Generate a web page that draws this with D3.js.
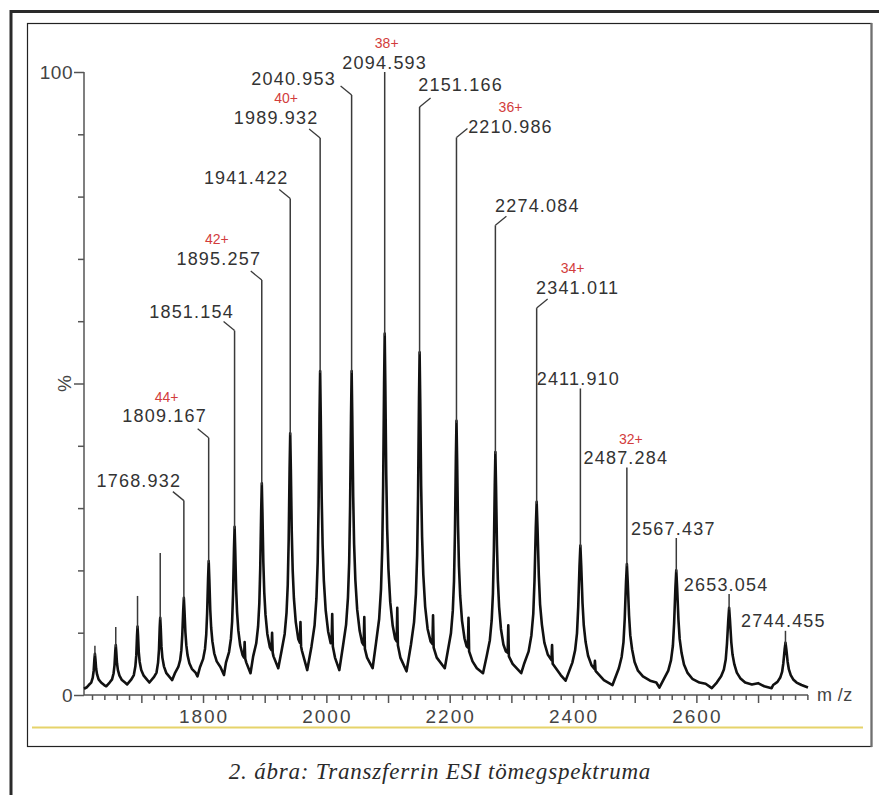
<!DOCTYPE html>
<html>
<head>
<meta charset="utf-8">
<script src="https://cdn.jsdelivr.net/npm/d3@7"></script>
<style>
  html, body { margin: 0; padding: 0; background: #fff; }
  svg { display: block; }
  .num { font-family: "Liberation Sans", Arial, sans-serif; font-size: 18px; fill: #333; letter-spacing: 1.2px; }
  .chg { font-family: "Liberation Sans", Arial, sans-serif; font-size: 14px; fill: #d23c3c; }
  .axlab { font-family: "Liberation Sans", Arial, sans-serif; font-size: 19px; fill: #444; letter-spacing: 2px; }
  .caption { font-family: "Liberation Serif", "DejaVu Serif", serif; font-style: italic; font-size: 23px; letter-spacing: 0.8px; fill: #2a2a2a; }
</style>
</head>
<body>
<svg id="chart" width="879" height="795"></svg>
<script>
// Labelled transferrin charge-state peaks (m/z and relative intensity, %)
const peakMz  = [1768.932, 1809.167, 1851.154, 1895.257, 1941.422, 1989.932, 2040.953, 2094.593, 2151.166,
                 2210.986, 2274.084, 2341.011, 2411.910, 2487.284, 2567.437, 2653.054, 2744.455];
const peakPct = [31.2, 41.3, 58.5, 66.6, 79.7, 89.4, 96.3, 100, 94.4, 89.5, 75.4, 62.1, 49.2, 36.5, 25.2, 16.2, 10.3];
const chargeState = [null, "44+", null, "42+", null, "40+", null, "38+", null, "36+", null, "34+", null, "32+", null, null, null];

// Unlabelled high-charge peaks at the low-m/z end
const minorMz  = [1624.7, 1658.5, 1693.8, 1730.6];
const minorPct = [7.9, 10.9, 15.9, 22.8];

// Axis ticks
const xTickLabels = [1800, 2000, 2200, 2400, 2600];
const yTickLabels = [0, 100];

// Profile trace [m/z, %]: broad part of every peak and the baseline between them
const spectrum = [
  [1607,1.0],[1611,1.2],
  [1614.7,1.6],[1618.7,2.0],[1621.2,2.8],[1622.7,3.9],[1623.9,5.8],[1624.7,6.6],[1625.5,5.8],[1626.7,4.2],[1628.2,3.3],[1630.7,2.5],[1634.7,2.0],[1639.7,1.6],[1643,1.4],
  [1648.5,2.0],[1652.5,2.5],[1655,3.5],[1656.5,4.8],[1657.7,7.0],[1658.5,8.0],[1659.3,7.0],[1660.5,5.1],[1662,4.0],[1664.5,3.1],[1668.5,2.4],[1673.5,2.0],[1677,1.7],
  [1683.8,2.5],[1687.8,3.2],[1690.3,4.6],[1691.8,6.4],[1693,9.6],[1693.8,11.0],[1694.6,9.6],[1695.8,6.9],[1697.3,5.3],[1699.8,4.0],[1703.8,3.1],[1708.8,2.5],[1713,2.0],
  [1720.6,2.9],[1724.6,3.6],[1727.1,5.2],[1728.6,7.3],[1729.8,10.9],[1730.6,12.4],[1731.4,10.9],[1732.6,7.8],[1734.1,6.0],[1736.6,4.6],[1740.6,3.5],[1745.6,2.9],[1750,2.4],
  [1754.9,3.6],[1759.9,4.5],[1762.9,5.6],[1764.9,7.2],[1766.4,9.7],[1767.9,13.6],[1768.9,15.6],[1769.9,13.6],[1771.4,10.1],[1772.9,8.0],[1774.9,6.4],[1777.9,5.1],[1781.9,4.2],[1787.9,3.6],[1791,3.0],
  [1795.2,4.5],[1800.2,5.8],[1803.2,7.4],[1805.2,9.7],[1806.7,13.2],[1808.2,18.7],[1809.2,21.5],[1810.2,18.7],[1811.7,13.7],[1813.2,10.8],[1815.2,8.6],[1818.2,6.7],[1822.2,5.4],[1828.2,4.5],[1834,3.2],
  [1837.2,5.2],[1842.2,6.9],[1845.2,9.0],[1847.2,11.8],[1848.7,16.3],[1850.2,23.4],[1851.2,27],[1852.2,23.4],[1853.7,17.0],[1855.2,13.3],[1857.2,10.4],[1860.2,8.0],[1864.2,6.4],[1866.5,6.0],[1867.5,8.5],[1868.5,5.8],[1870.2,5.2],[1877,3.5],
  [1881.3,6.2],[1886.3,8.3],[1889.3,11.0],[1891.3,14.7],[1892.8,20.4],[1894.3,29.5],[1895.3,34],[1896.3,29.5],[1897.8,21.3],[1899.3,16.5],[1901.3,12.9],[1904.3,9.8],[1908.3,7.7],[1911,7.2],[1912,10.0],[1913,6.8],[1914.3,6.2],[1922,4.3],
  [1927.4,7.1],[1932.4,9.8],[1935.4,13.2],[1937.4,17.7],[1938.9,24.9],[1940.4,36.3],[1941.4,42],[1942.4,36.3],[1943.9,26.1],[1945.4,20.0],[1947.4,15.5],[1950.4,11.7],[1954.4,9.0],[1957,8.4],[1958,11.7],[1959,7.8],[1960.4,7.1],[1969,4.0],
  [1975.9,7.8],[1980.9,11.2],[1983.9,15.5],[1985.9,21.3],[1987.4,30.4],[1988.9,44.8],[1989.9,52],[1990.9,44.8],[1992.4,31.8],[1993.9,24.2],[1995.9,18.4],[1998.9,13.6],[2002.9,10.2],[2007,8.3],[2008.5,8.5],[2009.5,13],[2010.5,7.8],[2014,6.0],[2021,4.0],
  [2027,7.9],[2032,11.3],[2035,15.6],[2037,21.3],[2038.5,30.4],[2040,44.8],[2041,52],[2042,44.8],[2043.5,31.9],[2045,24.2],[2047,18.5],[2050,13.7],[2054,10.3],[2058,8.4],[2060.5,8.0],[2061.5,12.5],[2062.5,7.4],[2066,6.0],[2075,4.3],
  [2080.6,8.4],[2085.6,12.2],[2088.6,17.0],[2090.6,23.5],[2092.1,33.7],[2093.6,49.9],[2094.6,58],[2095.6,49.9],[2097.1,35.4],[2098.6,26.7],[2100.6,20.3],[2103.6,14.9],[2107.6,11.1],[2111.6,9.0],[2114,8.6],[2115,14],[2116,8.0],[2120,6.0],[2130,3.8],
  [2137.2,8.1],[2142.2,11.7],[2145.2,16.2],[2147.2,22.4],[2148.7,32.0],[2150.2,47.4],[2151.2,55],[2152.2,47.4],[2153.7,33.6],[2155.2,25.4],[2157.2,19.3],[2160.2,14.2],[2164.2,10.6],[2169,8.6],[2172,8.2],[2173,12.8],[2174,7.6],[2179,6.0],[2192,4.3],
  [2197,7.1],[2202,9.9],[2205,13.5],[2207,18.3],[2208.5,26.0],[2210,38.0],[2211,44],[2212,38.0],[2213.5,27.2],[2215,20.7],[2217,15.9],[2220,11.9],[2224,9.1],[2227.5,7.8],[2229.5,7.6],[2230.5,12.4],[2231.5,7.0],[2237,5.4],[2244,4.3],[2254,3.5],
  [2260.1,6.3],[2265.1,8.8],[2268.1,12.0],[2270.1,16.3],[2271.6,23.0],[2273.1,33.7],[2274.1,39],[2275.1,33.7],[2276.6,24.1],[2278.1,18.4],[2280.1,14.2],[2283.1,10.6],[2287.1,8.1],[2291,7.0],[2294,6.8],[2295,11.2],[2296,6.2],[2302,5.0],[2316,3.5],
  [2321,5.1],[2328,7.0],[2332.5,9.6],[2335.5,13.0],[2337.5,18.3],[2339.6,26.8],[2341,31],[2342.4,26.8],[2344.5,19.2],[2346.5,14.6],[2349.5,11.3],[2353.5,8.4],[2359,6.5],[2365,5.6],[2366,8.0],[2367,5.0],[2380,3.2],[2388,2.3],
  [2398.9,5.2],[2403.4,7.2],[2406.4,9.9],[2408.4,14.1],[2410.5,20.7],[2411.9,24],[2413.3,20.7],[2415.4,14.7],[2417.4,11.2],[2420.4,8.5],[2424.4,6.3],[2429.9,4.8],[2434.5,4.2],[2435.5,5.5],[2436.5,3.9],[2437.9,3.7],[2450,2.4],[2464,1.6],
  [2474.3,4.3],[2478.8,6.1],[2481.8,8.5],[2483.8,12.2],[2485.9,18.1],[2487.3,21],[2488.7,18.1],[2490.8,12.8],[2492.8,9.6],[2495.8,7.3],[2499.8,5.3],[2505.3,3.9],[2513.3,3.0],[2525,2.3],[2535,2.0],[2540,1.2],
  [2547.4,2.6],[2554.4,3.9],[2558.9,5.6],[2561.9,7.9],[2563.9,11.5],[2566,17.2],[2567.4,20],[2568.8,17.2],[2570.9,12.1],[2572.9,9.0],[2575.9,6.8],[2579.9,4.9],[2585.4,3.6],[2593.4,2.6],[2605,2.0],[2615,1.8],[2625,1.1],
  [2633.1,2.0],[2640.1,3.0],[2644.6,4.1],[2647.6,5.7],[2649.6,8.2],[2651.7,12.0],[2653.1,14],[2654.5,12.0],[2656.6,8.5],[2658.6,6.5],[2661.6,4.9],[2665.6,3.6],[2671.1,2.7],[2679.1,2.0],[2690,1.7],[2700,1.9],[2710,1.4],[2722,1.1],
  [2724.5,1.6],[2731.5,2.1],[2736,2.8],[2739,3.7],[2741,5.1],[2743.1,7.3],[2744.5,8.4],[2745.9,7.3],[2748,5.3],[2750,4.1],[2753,3.2],[2757,2.5],[2762.5,2.0],[2770.5,1.6],[2781,1.2]
];

// Label placement: offset of the number label from the peak top, leader side, charge label shift
const labelLayout = [
  {dx:-45, dy:-20, lead:-1, cdx:0}, {dx:-44, dy:-22, lead:-1, cdx:2}, {dx:-43, dy:-19, lead:-1, cdx:0},
  {dx:-43, dy:-22, lead:-1, cdx:-2}, {dx:-44, dy:-21, lead:-1, cdx:0}, {dx:-44, dy:-21, lead:-1, cdx:10},
  {dx:-58, dy:-17, lead:-1, cdx:0}, {dx:0, dy:-10, lead:0, cdx:2}, {dx:41, dy:-22, lead:1, cdx:0},
  {dx:54, dy:-11, lead:1, cdx:0}, {dx:42, dy:-20, lead:1, cdx:0}, {dx:41, dy:-21, lead:1, cdx:-5},
  {dx:-2, dy:-10, lead:0, cdx:0}, {dx:-1, dy:-10, lead:0, cdx:5}, {dx:-3, dy:-10, lead:0, cdx:0},
  {dx:-3, dy:-10, lead:0, cdx:0}, {dx:-2, dy:-10, lead:0, cdx:0}
];

const svg = d3.select("#chart");

// Frames
svg.append("line").attr("x1", 10).attr("y1", 11.5).attr("x2", 879).attr("y2", 11.5)
  .attr("stroke", "#2a2a2a").attr("stroke-width", 3);
svg.append("line").attr("x1", 11).attr("y1", 10).attr("x2", 11).attr("y2", 795)
  .attr("stroke", "#2a2a2a").attr("stroke-width", 3);
svg.append("rect").attr("x", 27.5).attr("y", 23.5).attr("width", 844).attr("height", 723)
  .attr("fill", "#fff").attr("stroke", "#222").attr("stroke-width", 1.2);
svg.append("line").attr("x1", 871.5).attr("y1", 23).attr("x2", 871.5).attr("y2", 747)
  .attr("stroke", "#707070").attr("stroke-width", 2.2);
svg.append("line").attr("x1", 32).attr("y1", 727.5).attr("x2", 863).attr("y2", 727.5)
  .attr("stroke", "#e6d36a").attr("stroke-width", 2);

const x = d3.scaleLinear().domain([1607, 2781]).range([84, 808]);
const y = d3.scaleLinear().domain([0, 100]).range([695, 72]);

// Axes
const axisColor = "#555";
const gx = svg.append("g").attr("transform", `translate(0,${y(0)})`);
gx.call(d3.axisBottom(x).tickValues(d3.range(1620, 2781, 20)).tickSize(5).tickFormat(""));
gx.call(g => g.select(".domain").attr("d", `M${x.range()[0]},0H${x.range()[1]}`));
gx.selectAll(".tick line").attr("y2", d => d % 100 === 0 ? 8 : 5);
gx.selectAll("line, path").attr("stroke", axisColor).attr("stroke-width", 1.5);
svg.append("g").selectAll("text").data(xTickLabels).join("text")
  .attr("class", "axlab").attr("x", d => x(d) + 1).attr("y", 723).attr("text-anchor", "middle").text(d => d);

const gy = svg.append("g").attr("transform", `translate(${x(1607)},0)`);
gy.call(d3.axisLeft(y).tickValues(d3.range(0, 101, 10)).tickSize(6).tickFormat(""));
gy.call(g => g.select(".domain").attr("d", `M0,${y(0)}V${y(100)}`));
gy.selectAll(".tick line").attr("x2", d => (d === 0 || d === 100 || d === 50) ? -10 : -6);
gy.selectAll("line, path").attr("stroke", axisColor).attr("stroke-width", 1.5);
svg.append("g").selectAll("text").data(yTickLabels).join("text")
  .attr("class", "axlab").attr("x", x(1607) - 11).attr("y", d => y(d) + 7)
  .attr("text-anchor", "end").style("letter-spacing", "0.5px").text(d => d);
svg.append("text").attr("class", "axlab")
  .attr("transform", `translate(${x(1607) - 11},${y(50)}) rotate(-90)`)
  .attr("text-anchor", "middle").attr("dy", "-0.1em").style("letter-spacing", "0px").text("%");
svg.append("text").attr("class", "axlab").attr("x", 817).attr("y", y(0) + 6)
  .style("letter-spacing", "0.4px").style("font-size", "18px").text("m /z");

// Spectrum trace
const line = d3.line().x(d => x(d[0])).y(d => y(d[1]));
svg.append("path").datum(spectrum).attr("d", line)
  .attr("fill", "none").attr("stroke", "#111").attr("stroke-width", 2.6)
  .attr("stroke-linejoin", "round");

// Narrow apex of each peak, rising from the broad profile
function profileAt(mz) {
  let best = spectrum[0];
  for (const p of spectrum) if (Math.abs(p[0] - mz) < Math.abs(best[0] - mz)) best = p;
  return best[1];
}
const spikes = peakMz.map((m, i) => ({m, top: peakPct[i]}))
  .concat(minorMz.map((m, i) => ({m, top: minorPct[i]})));
svg.append("g").selectAll("line").data(spikes).join("line")
  .attr("x1", d => x(d.m)).attr("x2", d => x(d.m))
  .attr("y1", d => y(profileAt(d.m)) + 2).attr("y2", d => y(d.top))
  .attr("stroke", "#3a3a3a").attr("stroke-width", 1.5);

// Peak labels, leaders and charge states
const labels = peakMz.map((m, i) => ({m, top: peakPct[i], z: chargeState[i], ...labelLayout[i]}));
const lg = svg.append("g");
lg.selectAll("path").data(labels.filter(d => d.lead !== 0)).join("path")
  .attr("d", d => {
    const px = x(d.m), py = y(d.top);
    return `M${px + d.lead * 11},${py - 9}L${px},${py}`;
  })
  .attr("fill", "none").attr("stroke", "#3a3a3a").attr("stroke-width", 1.3);
lg.selectAll("text.num").data(labels).join("text").attr("class", "num")
  .attr("x", d => x(d.m) + d.dx).attr("y", d => y(d.top) + d.dy + 6.5)
  .attr("text-anchor", "middle").text(d => d.m.toFixed(3));
lg.selectAll("text.chg").data(labels.filter(d => d.z)).join("text").attr("class", "chg")
  .attr("x", d => x(d.m) + d.dx + d.cdx).attr("y", d => y(d.top) + d.dy - 14)
  .attr("text-anchor", "middle").text(d => d.z);

// Caption
svg.append("text").attr("class", "caption").attr("x", 440).attr("y", 779)
  .attr("text-anchor", "middle").text("2. ábra: Transzferrin ESI tömegspektruma");
</script>
</body>
</html>
